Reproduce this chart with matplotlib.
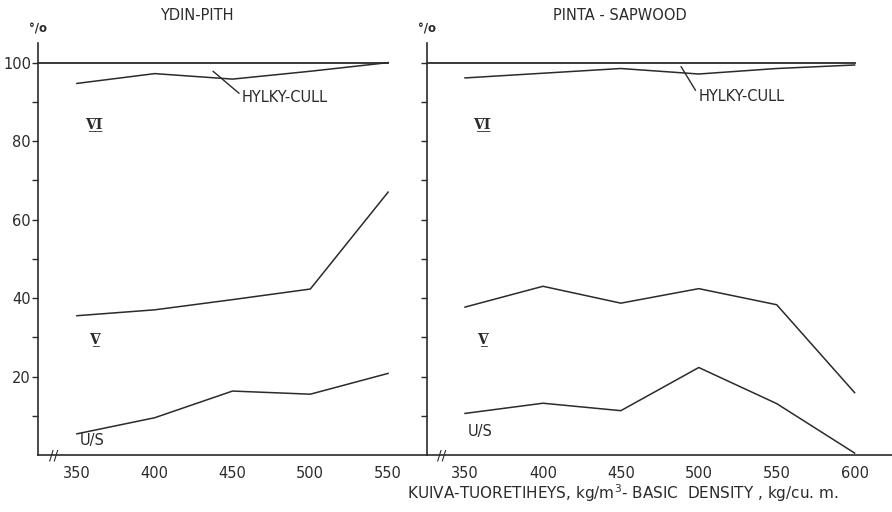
import matplotlib.pyplot as plt
import matplotlib.transforms as mtransforms

plt.rcParams['font.family'] = ['DejaVu Sans']

# data
density_pith = [350, 400, 450, 500, 550]
cull_pith = [94.7, 97.2, 95.8, 97.8, 100.0]
grade5_pith = [35.5, 37.0, 39.6, 42.3, 67.0]
us_pith = [5.4, 9.5, 16.3, 15.5, 20.8]

density_sap = [350, 400, 450, 500, 550, 600]
cull_sap = [96.1, 97.3, 98.5, 97.1, 98.5, 99.4]
grade5_sap = [37.7, 43.0, 38.7, 42.4, 38.3, 15.9]
us_sap = [10.6, 13.2, 11.3, 22.3, 13.1, 0.5]

ytick_major = [20, 40, 60, 80, 100]
ytick_minor = [10, 30, 50, 70, 90]

ink = '#2b2b2b'

fig = plt.figure(figsize=(8.92, 5.12), dpi=100)
ax1 = fig.add_axes([0.0426, 0.1113, 0.4361, 0.8047])
ax2 = fig.add_axes([0.4787, 0.1113, 0.5213, 0.8047])


def style_panel(ax, xs, xlim, title, title_x):
    ax.set_xlim(*xlim)
    ax.set_ylim(0, 105)
    for s in ['top', 'right']:
        ax.spines[s].set_visible(False)
    for s in ['left', 'bottom']:
        ax.spines[s].set_color(ink)
        ax.spines[s].set_linewidth(1.2)
    ax.set_xticks(xs)
    ax.set_xticklabels([str(x) for x in xs])
    ax.tick_params(axis='x', length=0, pad=8, labelsize=10.5, colors=ink)
    ax.set_yticks(ytick_major)
    ax.set_yticks(ytick_minor, minor=True)
    ax.tick_params(axis='y', which='both', length=4, width=1, colors=ink,
                   labelsize=10.5, direction='out', pad=1)
    ax.patch.set_alpha(0)
    # 100 % reference line
    ax.plot([xlim[0], xs[-1]], [100, 100], color=ink, lw=1.3, clip_on=False)
    # axis break
    ax.text(335, 0, '//', ha='center', va='center', fontsize=10, color=ink)
    ax.text(xlim[0], 107, '°/o', ha='center', va='bottom', fontsize=8.5,
            color=ink, fontweight='bold', clip_on=False)
    tr = mtransforms.blended_transform_factory(ax.transData, fig.transFigure)
    ax.text(title_x, 0.969, title, transform=tr, ha='center', va='center',
            fontsize=10.5, color=ink)


style_panel(ax1, density_pith, (325, 575), 'YDIN-PITH', 427)
style_panel(ax2, density_sap, (325.6, 624), 'PINTA - SAPWOOD', 449.6)
ax2.set_yticklabels([])

# roman numerals with bars above and below
roman6 = 'V\u0305\u0332I\u0305\u0332'
roman5 = 'V\u0305\u0332'

for ax, xs, cull, g5, us in [(ax1, density_pith, cull_pith, grade5_pith, us_pith),
                             (ax2, density_sap, cull_sap, grade5_sap, us_sap)]:
    ax.plot(xs, cull, color=ink, lw=1.1)
    ax.plot(xs, g5, color=ink, lw=1.1)
    ax.plot(xs, us, color=ink, lw=1.1)
    ax.text(361, 84.3, roman6, ha='center', va='center', fontsize=10,
            color=ink, family='DejaVu Serif', fontweight='bold')
    ax.text(361, 29.6, roman5, ha='center', va='center', fontsize=10,
            color=ink, family='DejaVu Serif', fontweight='bold')

ax1.text(360, 1.8, 'U/S', ha='center', va='bottom', fontsize=10.5, color=ink)
ax2.text(360, 4.2, 'U/S', ha='center', va='bottom', fontsize=10.5, color=ink)

# leaders for the cull line
ax1.annotate('HYLKY-CULL', xy=(437.5, 97.8), xytext=(456, 91.2),
             ha='left', va='center', fontsize=10.5, color=ink,
             arrowprops=dict(arrowstyle='-', color=ink, lw=1, shrinkA=0, shrinkB=0,
                             relpos=(0, 0.6)))
ax2.annotate('HYLKY-CULL', xy=(488.6, 99.0), xytext=(499.7, 91.4),
             ha='left', va='center', fontsize=10.5, color=ink,
             arrowprops=dict(arrowstyle='-', color=ink, lw=1, shrinkA=0, shrinkB=0,
                             relpos=(0, 0.6)))

fig.text(0.698, 0.037, 'KUIVA-TUORETIHEYS, kg/m$^3$- BASIC  DENSITY , kg/cu. m.',
         ha='center', va='center', fontsize=11, color=ink)

fig.savefig('out.png', dpi=100, facecolor='white')
